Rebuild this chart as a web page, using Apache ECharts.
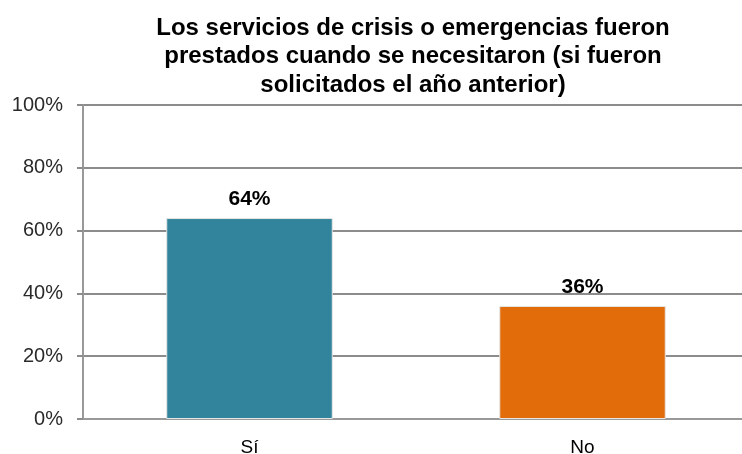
<!DOCTYPE html>
<html>
<head>
<meta charset="utf-8">
<script src="https://cdn.jsdelivr.net/npm/echarts@6/dist/echarts.min.js"></script>
<style>
  html, body { margin: 0; padding: 0; background: #fff; }
  #chart { width: 742px; height: 454px; }
</style>
</head>
<body>
<div id="chart"></div>
<script>
var categories = ['Sí', 'No'];
var values = [64, 36];
var barColors = ['#31849b', '#e36c0a'];
var yTicks = [0, 20, 40, 60, 80, 100];

var myChart = echarts.init(document.getElementById('chart'));

var option = {
    animation: false,
    title: {
        text: 'Los servicios de crisis o emergencias fueron\nprestados cuando se necesitaron (si fueron\nsolicitados el año anterior)',
        left: 408,
        top: 9,
        textAlign: 'center',
        textStyle: {
            fontFamily: 'Liberation Sans',
            fontSize: 24,
            fontWeight: 'bold',
            color: '#000',
            lineHeight: 28.5
        }
    },
    grid: {
        left: 83,
        right: -7,
        top: 105,
        bottom: 35,
        outerBoundsMode: 'none'
    },
    xAxis: {
        type: 'category',
        data: categories,
        axisLine: { lineStyle: { color: '#999', width: 2 } },
        axisTick: { length: 6, lineStyle: { color: '#999', width: 2 } },
        axisLabel: {
            fontFamily: 'Liberation Sans',
            fontSize: 19,
            color: '#000',
            margin: 19
        }
    },
    yAxis: {
        type: 'value',
        min: yTicks[0],
        max: yTicks[yTicks.length - 1],
        interval: 20,
        axisLine: { show: true, lineStyle: { color: '#999', width: 2 } },
        axisTick: { show: true, length: 6, lineStyle: { color: '#8c8c8c', width: 2 } },
        axisLabel: {
            formatter: '{value}%',
            fontFamily: 'Liberation Sans',
            fontSize: 20,
            color: '#2a2a2a',
            margin: 20
        },
        splitLine: { lineStyle: { color: '#8c8c8c', width: 2 } }
    },
    series: [
        {
            type: 'bar',
            barWidth: '50%',
            data: values.map(function (v, i) {
                return { value: v, itemStyle: { color: barColors[i] } };
            }),
            itemStyle: {
                borderColor: '#e6e6e6',
                borderWidth: 1
            },
            label: {
                show: true,
                position: 'top',
                distance: 8,
                formatter: '{c}%',
                fontFamily: 'Liberation Sans',
                fontSize: 21,
                fontWeight: 'bold',
                color: '#000'
            }
        }
    ]
};

myChart.setOption(option);
</script>
</body>
</html>
